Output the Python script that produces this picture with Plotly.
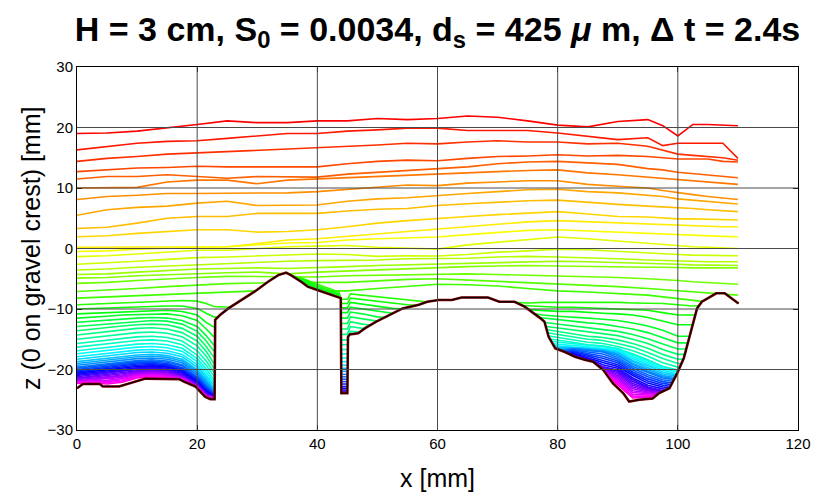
import colorsys
import plotly.graph_objects as go

_ = None

# ---- bed (gravel) profile -------------------------------------------------
BED_X = [0, 1.0, 3.8, 4.3, 7.0, 9.5, 11.4, 17.0, 17.8, 19.7, 21.3, 22.2, 22.9, 23.0, 23.8,
         25.2, 27.4, 29.6, 31.8, 33.5, 34.8, 35.6, 37.3, 38.4, 40.1, 41.7, 43.6, 43.9, 44.0,
         45.0, 45.1, 45.4, 46.8, 47.9, 49.8, 52.0, 54.2, 56.9, 58.3, 60.2, 62.4, 64.0, 68.4,
         70.3, 72.8, 74.5, 76.1, 77.1, 77.8, 78.5, 79.6, 81.2, 82.9, 84.5, 85.9, 87.6, 89.2,
         90.9, 91.9, 93.6, 95.8, 96.9, 98.6, 99.9, 101.0, 101.8, 102.7, 103.2, 104.0, 106.4,
         107.8, 109.2, 110.1]
BED_Z = [-23.1, -22.4, -22.4, -22.8, -22.8, -22.0, -21.5, -21.6, -22.0, -22.8, -24.5, -24.9,
         -24.9, -11.8, -11.0, -9.9, -8.5, -7.1, -5.5, -4.4, -4.0, -4.4, -5.5, -6.3, -6.9, -7.4,
         -8.1, -8.2, -23.9, -23.9, -14.6, -14.2, -14.0, -13.2, -12.1, -11.0, -9.9, -9.3, -8.8,
         -8.5, -8.5, -8.1, -8.1, -8.8, -8.8, -9.6, -10.7, -11.5, -12.1, -14.6, -16.5, -17.1,
         -17.9, -18.4, -18.7, -20.1, -22.3, -23.9, -25.3, -25.0, -24.8, -23.9, -23.1, -20.6,
         -18.1, -15.1, -11.5, -9.9, -8.8, -7.4, -7.4, -8.4, -9.1]

# ---- early surfaces spanning the whole flume -------------------------------
U_X = [0, 5, 10, 15, 20, 25, 30, 35, 40, 45, 50, 55, 60, 65, 70, 75, 80, 85, 90, 95,
       97.5, 100, 102.5, 105, 107.5, 110]
UPPER_Z = [
    [19.0, 19.1, 19.4, 19.9, 20.5, 21.1, 20.8, 20.8, 21.1, 21.1, 21.5, 21.3, 21.5, 21.9, 21.7, 21.1, 20.4, 20.1, 21.0, 21.3, 20.3, 18.6, 20.5, 20.5, 20.4, 20.3],
    [16.3, 16.9, 17.4, 17.7, 17.8, 18.2, 18.6, 19.0, 19.0, 19.4, 19.6, 19.9, 19.9, 19.5, 19.5, 19.5, 19.1, 18.5, 18.0, 18.3, 17.0, 17.4, 17.4, 17.4, 17.4, 14.9],
    [14.4, 14.9, 15.2, 15.6, 15.8, 16.0, 16.3, 16.5, 16.6, 16.9, 17.1, 17.4, 17.3, 17.6, 17.8, 17.6, 17.6, 17.3, 17.4, 16.9, 16.3, 15.6, 15.4, 15.2, 15.0, 14.6],
    [12.7, 13.0, 13.3, 13.4, 13.6, 13.5, 13.5, 13.5, 13.5, 14.0, 14.4, 14.6, 14.5, 14.9, 15.2, 15.3, 15.5, 15.3, 15.4, 15.2, 15.0, 14.8, 14.8, 14.8, 14.4, 14.3],
    [11.5, 11.9, 11.9, 12.2, 11.9, 11.6, 11.9, 11.9, 11.8, 12.3, 12.6, 13.0, 13.2, 13.5, 14.0, 14.3, 14.4, 14.1, 13.9, 13.2, 13.0, 12.6, 12.4, 12.2, 12.0, 11.7],
    [10.0, 10.0, 10.1, 11.0, 11.3, 11.3, 10.7, 11.3, 11.5, 11.7, 12.0, 12.2, 12.4, 12.6, 12.7, 12.9, 13.0, 12.5, 12.2, 11.8, 11.6, 11.3, 11.2, 11.0, 10.8, 10.6],
    [8.1, 8.6, 8.8, 9.1, 9.1, 9.1, 9.1, 9.2, 9.4, 9.8, 10.2, 10.5, 10.4, 10.8, 11.0, 11.2, 11.2, 10.6, 10.3, 10.0, 9.6, 9.2, 8.9, 8.6, 8.3, 8.1],
    [5.5, 6.4, 6.8, 7.0, 7.5, 7.8, 7.1, 7.2, 7.2, 7.8, 8.2, 8.4, 8.8, 9.1, 9.4, 9.7, 9.8, 9.4, 9.2, 8.8, 8.6, 8.2, 8.0, 7.7, 7.5, 7.35],
    [3.3, 3.5, 4.2, 5.0, 5.3, 5.3, 5.8, 5.8, 5.8, 6.2, 6.5, 6.6, 7.1, 7.4, 7.7, 7.9, 8.0, 7.6, 7.3, 7.0, 6.9, 6.8, 6.6, 6.4, 6.2, 6.1],
    [1.95, 2.1, 2.5, 2.8, 3.1, 3.1, 2.7, 2.8, 3.1, 3.6, 4.2, 4.6, 5.0, 5.3, 5.6, 5.9, 6.1, 5.7, 5.3, 5.2, 5.0, 4.9, 4.9, 4.8, 4.7, 4.7],
    [0.2, 0.2, 0.3, 0.3, 0.3, 0.3, 0.8, 1.4, 1.6, 2.0, 2.4, 2.8, 3.2, 3.6, 3.9, 4.4, 4.6, 4.4, 4.2, 4.1, 4.0, 3.8, 3.8, 3.7, 3.6, 3.6],
    [-0.5, -0.4, -0.1, 0.1, 0.2, 0.3, 0.6, 0.9, 1.0, 1.4, 1.6, 1.8, 1.9, 2.3, 2.6, 3.0, 3.1, 2.9, 2.6, 2.4, 2.3, 2.2, 2.1, 2.0, 2.0, 1.95],
    [-1.35, -1.2, -0.9, -0.6, -0.3, -0.3, 0.0, 0.3, 0.4, 0.5, 0.2, 0.1, -0.1, 0.6, 1.0, 1.5, 1.9, 1.6, 1.2, 0.9, 0.6, 0.4, 0.3, 0.2, 0.1, 0.0],
    [-2.6, -2.4, -2.1, -1.8, -1.5, -1.4, -1.2, -1.0, -0.9, -1.0, -1.3, -1.2, -1.25, -1.0, -0.6, -0.4, -0.1, -0.2, -0.5, -0.8, -0.9, -1.0, -1.1, -1.1, -1.2, -1.2],
    [-3.56, -3.4, -3.1, -2.9, -2.6, -2.4, -2.2, -2.1, -2.0, -2.0, -1.9, -1.7, -1.7, -1.6, -1.4, -1.3, -1.4, -1.5, -1.7, -1.9, -2.0, -2.1, -2.1, -2.2, -2.2, -2.2],
    [-4.3, -4.2, -3.9, -3.6, -3.4, -3.3, -3.2, -3.3, -3.2, -3.0, -2.8, -2.7, -2.5, -2.4, -2.3, -2.2, -2.1, -2.2, -2.3, -2.4, -2.5, -2.6, -2.7, -2.7, -2.8, -2.8],
    [-4.9, -4.8, -4.5, -4.3, -4.1, -4.0, -3.9, -4.2, -3.9, -3.7, -3.5, -3.3, -3.1, -3.0, -2.9, -2.8, -2.9, -3.0, -3.0, -3.1, -3.1, -3.2, -3.2, -3.2, -3.2, -3.2],
    [-5.76, -5.6, -5.3, -5.0, -4.8, -4.6, -4.6, -4.6, -4.7, -4.5, -4.4, -4.3, -4.2, -4.2, -4.3, -4.4, -4.5, -4.6, -4.8, -5.0, -5.1, -5.3, -5.5, -5.6, -5.8, -5.9],
    [-7.1, -6.9, -6.6, -6.3, -6.0, -5.8, -5.7, -5.6, -5.6, -5.6, -5.3, -5.1, -5.0, -5.2, -5.4, -5.6, -5.8, -6.0, -6.3, -6.6, -6.8, -7.0, -7.2, -7.4, -7.6, -7.7],
    [-8.2, -8.0, -7.7, -7.5, -7.3, -7.2, -7.0, -7.0, -7.0, -7.0, -6.6, -6.3, -5.9, -6.0, -6.2, -6.6, -7.0, -7.2, -7.4, -7.7, -8.0, -8.3, -8.6, -8.9, -9.2, -9.4],
]

# ---- later surfaces: upstream hole, slot / crest lee side, downstream hole --
LEFT_X = [0, 2.5, 5, 7.5, 10, 12.5, 15, 17.5, 20, 21.5, 22.8, 25, 27.5]
MID_X = [35, 37.5, 40, 42.5, 43.6, 44.0, 44.5, 45.0, 45.5, 47.5, 50, 52.5, 55, 57.5, 60]
RIGHT_X = [70, 75, 77.5, 80, 82.5, 85, 86.5, 87.5, 90, 92.5, 95, 97.5, 100, 102.5, 105, 107.5, 110]

LEFT_Z = [
    [-9.3, -9.2, -9.1, -9.0, -8.9, -8.8, -8.7, -8.6, -8.7, -9.1, -9.6, -9.7, -9.8],
    [-10.0, -9.9, -9.8, -9.7, -9.6, -9.5, -9.5, -9.5, -9.9, -10.7, -11.3, -11.5, -11.5],
    [-10.8, -10.7, -10.6, -10.5, -10.3, -10.2, -10.2, -10.4, -11.0, -12.2, -13.0, _, _],
    [-11.5, -11.4, -11.2, -11.0, -10.9, -10.8, -10.8, -11.1, -11.9, -13.3, -14.6, _, _],
    [-12.2, -12.0, -11.8, -11.6, -11.5, -11.4, -11.5, -11.9, -12.9, -14.4, -16.0, _, _],
    [-12.9, -12.7, -12.4, -12.2, -12.0, -11.9, -12.0, -12.5, -13.7, -15.3, -17.0, _, _],
    [-13.6, -13.3, -13.0, -12.8, -12.6, -12.5, -12.6, -13.2, -14.5, -16.2, -18.0, _, _],
    [-14.3, -14.0, -13.7, -13.4, -13.2, -13.1, -13.3, -13.9, -15.3, -17.0, -19.0, _, _],
    [-15.0, -14.7, -14.4, -14.1, -13.9, -13.8, -14.0, -14.6, -16.1, -17.8, -19.8, _, _],
    [-15.7, -15.4, -15.1, -14.8, -14.6, -14.5, -14.7, -15.3, -16.9, -18.6, -20.5, _, _],
    [-16.3, -16.0, -15.7, -15.4, -15.2, -15.1, -15.3, -15.9, -17.6, -19.3, -21.1, _, _],
    [-16.9, -16.6, -16.3, -16.0, -15.8, -15.7, -15.9, -16.5, -18.2, -19.9, -21.7, _, _],
    [-17.4, -17.1, -16.8, -16.5, -16.3, -16.2, -16.4, -17.0, -18.7, -20.4, -22.2, _, _],
    [-17.9, -17.6, -17.3, -17.0, -16.8, -16.7, -16.9, -17.5, -19.2, -20.9, -22.6, _, _],
    [-18.3, -18.0, -17.7, -17.4, -17.2, -17.1, -17.3, -17.9, -19.6, -21.3, -23.0, _, _],
    [-18.7, -18.4, -18.1, -17.8, -17.6, -17.5, -17.7, -18.3, -20.0, -21.7, -23.3, _, _],
    [-19.0, -18.7, -18.4, -18.1, -17.9, -17.8, -18.0, -18.6, -20.3, -22.0, -23.5, _, _],
    [-19.3, -19.0, -18.7, -18.4, -18.2, -18.1, -18.3, -18.9, -20.6, -22.3, -23.7, _, _],
    [-19.6, -19.3, -19.0, -18.7, -18.5, -18.4, -18.6, -19.2, -20.9, -22.6, -23.9, _, _],
    [-19.8, -19.5, -19.2, -18.9, -18.7, -18.6, -18.8, -19.4, -21.2, -22.8, -24.0, _, _],
    [-20.0, -19.7, -19.4, -19.1, -18.9, -18.8, -19.0, -19.7, -21.4, -23.0, -24.1, _, _],
    [-20.2, -19.9, -19.6, -19.3, -19.1, -19.0, -19.2, -19.9, -21.6, -23.2, -24.2, _, _],
    [-20.4, -20.1, -19.8, -19.5, -19.3, -19.2, -19.4, -20.1, -21.8, -23.4, -24.3, _, _],
    [-20.6, -20.3, -20.0, -19.7, -19.5, -19.4, -19.6, -20.3, -22.0, -23.6, -24.4, _, _],
    [-20.8, -20.5, -20.2, -19.9, -19.7, -19.6, -19.8, -20.5, -22.1, -23.7, -24.5, _, _],
    [-21.0, -20.7, -20.4, -20.1, -19.9, -19.75, -19.95, -20.7, -22.3, -23.9, -24.5, _, _],
    [-21.2, -20.9, -20.6, -20.3, -20.0, -19.9, -20.1, -20.9, -22.4, -24.0, -24.6, _, _],
    [-21.4, -21.1, -20.8, -20.5, -20.2, -20.05, -20.25, -21.0, -22.5, -24.1, -24.6, _, _],
    [-21.5, -21.3, -21.0, -20.7, -20.35, -20.2, -20.4, -21.1, -22.6, -24.2, -24.7, _, _],
    [-21.7, -21.5, -21.2, -20.9, -20.5, -20.35, -20.55, -21.2, -22.7, -24.2, -24.7, _, _],
    [-21.8, -21.6, -21.4, -21.1, -20.65, -20.5, -20.7, -21.3, -22.7, -24.3, -24.7, _, _],
    [-21.9, -21.7, -21.6, -21.3, -20.8, -20.65, -20.85, -21.4, -22.8, -24.3, -24.8, _, _],
    [-22.0, -21.9, -21.8, -21.5, -20.95, -20.8, -21.0, -21.5, -22.8, -24.4, -24.8, _, _],
    [-22.1, -22.0, -22.0, -21.7, -21.1, -20.95, -21.15, -21.6, -22.9, -24.4, -24.8, _, _],
    [-22.2, -22.1, -22.2, -21.9, -21.25, -21.1, -21.3, -21.7, -22.9, -24.5, -24.8, _, _],
    [-22.3, -22.2, -22.4, -22.1, -21.4, -21.25, -21.45, -21.8, -23.0, -24.5, -24.8, _, _],
]

MID_Z = [
    [-4.3, -4.9, -5.9, -6.8, -7.2, -8.4, -8.4, -8.4, -7.5, -7.7, -8.0, -8.2, -8.5, -8.8, -9.0],
    [-4.5, -5.1, -6.2, -7.1, -7.5, -9.1, -9.1, -9.1, -8.2, -8.4, -8.7, -9.0, -9.3, -9.5, -9.6],
    [-4.7, -5.3, -6.5, -7.35, -7.75, -9.8, -9.8, -9.8, -8.9, -9.2, -9.6, -9.9, -10.0, -10.0, -10.0],
    [-4.9, -5.5, -6.7, -7.55, -7.95, -10.6, -10.6, -10.6, -9.7, -10.0, -10.4, -10.7, -10.7, -10.7, -10.7],
    [_, _, _, _, _, -11.5, -11.5, -11.5, -10.5, -10.8, -11.3, -11.5, -11.5, _, _],
    [_, _, _, _, _, -12.4, -12.4, -12.4, -11.3, -11.6, -12.0, -12.0, _, _, _],
    [_, _, _, _, _, -13.3, -13.3, -13.3, -12.1, -12.5, -12.8, _, _, _, _],
    [_, _, _, _, _, -14.2, -14.2, -14.2, -12.9, -13.2, -13.2, _, _, _, _],
    [_, _, _, _, _, -15.1, -15.1, -15.1, -13.7, -13.8, _, _, _, _, _],
    [_, _, _, _, _, -15.9, -15.9, -15.9, _, _, _, _, _, _, _],
    [_, _, _, _, _, -16.7, -16.7, -16.7, _, _, _, _, _, _, _],
    [_, _, _, _, _, -17.4, -17.4, -17.4, _, _, _, _, _, _, _],
    [_, _, _, _, _, -18.1, -18.1, -18.1, _, _, _, _, _, _, _],
    [_, _, _, _, _, -18.7, -18.7, -18.7, _, _, _, _, _, _, _],
    [_, _, _, _, _, -19.3, -19.3, -19.3, _, _, _, _, _, _, _],
    [_, _, _, _, _, -19.8, -19.8, -19.8, _, _, _, _, _, _, _],
    [_, _, _, _, _, -20.3, -20.3, -20.3, _, _, _, _, _, _, _],
    [_, _, _, _, _, -20.8, -20.8, -20.8, _, _, _, _, _, _, _],
    [_, _, _, _, _, -21.2, -21.2, -21.2, _, _, _, _, _, _, _],
    [_, _, _, _, _, -21.6, -21.6, -21.6, _, _, _, _, _, _, _],
    [_, _, _, _, _, -22.0, -22.0, -22.0, _, _, _, _, _, _, _],
    [_, _, _, _, _, -22.4, -22.4, -22.4, _, _, _, _, _, _, _],
    [_, _, _, _, _, -22.8, -22.8, -22.8, _, _, _, _, _, _, _],
    [_, _, _, _, _, -23.1, -23.1, -23.1, _, _, _, _, _, _, _],
    [_, _, _, _, _, -23.4, -23.4, -23.4, _, _, _, _, _, _, _],
    [_, _, _, _, _, -23.7, -23.7, -23.7, _, _, _, _, _, _, _],
    None, None, None, None, None, None, None, None, None, None,
]

RIGHT_Z = [
    [-8.8, -9.0, -8.9, -8.9, -8.8, -8.8, -8.8, -8.8, -8.9, -9.0, -9.0, -9.1, -9.3, -9.5, -9.4, -9.3, -9.3],
    [-9.2, -9.5, -9.6, -9.7, -9.7, -9.8, -9.8, -9.8, -9.9, -10.0, -10.2, -10.6, -11.0, -11.0, -11.0, -11.0, -11.0],
    [-9.8, -10.1, -10.3, -10.4, -10.4, -10.6, -10.7, -10.7, -10.8, -11.0, -11.4, -12.0, -12.6, -12.6, -12.6, _, _],
    [_, -10.6, -11.0, -11.2, -11.3, -11.5, -11.6, -11.7, -11.9, -12.3, -12.8, -13.5, -14.5, -14.5, _, _, _],
    [_, -11.2, -11.5, -11.8, -12.0, -12.3, -12.4, -12.5, -12.9, -13.3, -13.9, -14.7, -15.6, -15.6, _, _, _],
    [_, _, -12.2, -12.5, -12.8, -13.1, -13.2, -13.3, -13.7, -14.2, -14.9, -15.8, -16.6, -16.6, _, _, _],
    [_, _, -12.8, -13.1, -13.5, -13.8, -13.9, -14.0, -14.4, -15.0, -15.7, -16.7, -17.5, -17.5, _, _, _],
    [_, _, -13.3, -13.7, -14.1, -14.5, -14.6, -14.7, -15.1, -15.7, -16.5, -17.5, -18.3, -18.3, _, _, _],
    [_, _, -13.8, -14.2, -14.6, -15.0, -15.1, -15.2, -15.7, -16.3, -17.2, -18.2, -19.0, -19.0, _, _, _],
    [_, _, -14.3, -14.7, -15.1, -15.5, -15.6, -15.7, -16.2, -16.9, -17.8, -18.9, -19.6, -19.6, _, _, _],
    [_, _, -14.8, -15.1, -15.5, -15.9, -16.0, -16.1, -16.6, -17.4, -18.4, -19.5, -20.1, -20.1, _, _, _],
    [_, _, -15.2, -15.5, -15.8, -16.0, -16.1, -16.2, -16.5, -17.6, -18.5, -19.5, -20.2, -20.2, _, _, _],
    [_, _, -15.6, -15.8, -16.0, -16.2, -16.3, -16.4, -16.7, -17.9, -18.8, -19.8, -20.5, -20.5, _, _, _],
    [_, _, -15.9, -16.1, -16.2, -16.4, -16.5, -16.6, -16.9, -18.2, -19.1, -20.1, -20.8, -20.8, _, _, _],
    [_, _, -16.2, -16.3, -16.3, -16.5, -16.6, -16.7, -17.1, -18.5, -19.4, -20.4, -21.0, -21.0, _, _, _],
    [_, _, -16.4, -16.5, -16.4, -16.6, -16.7, -16.8, -17.3, -18.7, -19.7, -20.7, -21.2, -21.2, _, _, _],
    [_, _, -16.6, -16.7, -16.5, -16.7, -16.8, -16.9, -17.5, -19.0, -20.0, -21.0, -21.4, -21.4, _, _, _],
    [_, _, -16.8, -16.9, -16.55, -16.75, -16.9, -17.0, -17.7, -19.2, -20.3, -21.2, -21.6, -21.6, _, _, _],
    [_, _, -17.0, -17.1, -16.6, -16.8, -17.0, -17.1, -18.0, -19.5, -20.5, -21.4, -21.8, _, _, _, _],
    [_, _, -17.2, -17.2, -16.75, -17.05, -17.3, -17.45, -18.3, -19.8, -20.85, -21.7, -22.1, _, _, _, _],
    [_, _, -17.4, -17.3, -16.9, -17.3, -17.6, -17.8, -18.6, -20.1, -21.2, -22.0, -22.4, _, _, _, _],
    [_, _, -17.6, -17.4, -17.05, -17.55, -17.9, -18.15, -18.9, -20.4, -21.55, -22.3, -22.7, _, _, _, _],
    [_, _, -17.8, -17.5, -17.2, -17.8, -18.2, -18.5, -19.2, -20.7, -21.9, -22.6, -23.0, _, _, _, _],
    [_, _, -18.0, -17.6, -17.35, -18.0, -18.5, -18.85, -19.5, -21.0, -22.25, -22.9, -23.3, _, _, _, _],
    [_, _, -18.2, -17.7, -17.5, -18.2, -18.8, -19.2, -19.8, -21.4, -22.6, -23.2, -23.6, _, _, _, _],
    [_, _, -18.4, -17.8, -17.65, -18.4, -19.1, -19.55, -20.1, -21.7, -22.9, -23.5, -23.9, _, _, _, _],
    [_, _, _, _, _, -19.0, -19.3, -19.6, -20.3, -22.0, -23.0, -23.6, -25.0, _, _, _, _],
    [_, _, _, _, _, -19.1, -19.4, -19.7, -20.55, -22.3, -23.2, -23.7, -25.0, _, _, _, _],
    [_, _, _, _, _, -19.2, -19.5, -19.8, -20.8, -22.6, -23.4, -23.8, -25.0, _, _, _, _],
    [_, _, _, _, _, -19.3, -19.6, -19.9, -21.05, -22.9, -23.55, -23.9, -25.0, _, _, _, _],
    [_, _, _, _, _, -19.4, -19.7, -20.0, -21.3, -23.2, -23.7, -24.0, -25.0, _, _, _, _],
    [_, _, _, _, _, -19.5, -19.8, -20.1, -21.55, -23.5, -23.85, -24.1, -25.0, _, _, _, _],
    [_, _, _, _, _, -19.6, -19.9, -20.2, -21.8, -23.8, -24.0, -24.2, -25.0, _, _, _, _],
    [_, _, _, _, _, -19.7, -20.0, -20.3, -22.05, -24.1, -24.2, -24.3, -25.0, _, _, _, _],
    [_, _, _, _, _, -19.8, -20.1, -20.4, -22.3, -24.4, -24.4, -24.4, -25.0, _, _, _, _],
    [_, _, _, _, _, -19.9, -20.2, -20.5, -22.55, -24.7, -24.6, -24.5, -25.0, _, _, _, _],
]

X_TICKS = [0, 20, 40, 60, 80, 100, 120]
Y_TICKS = [-30, -20, -10, 0, 10, 20, 30]

FONT = "Liberation Sans, Arial, sans-serif"
LINE_W = 1.6
HUE_SPAN = 0.85


def surface_colour(i, n):
    r, g, b = colorsys.hsv_to_rgb(HUE_SPAN * i / (n - 1), 1.0, 1.0)
    return "#%02x%02x%02x" % (round(r * 255), round(g * 255), round(b * 255))


n_lines = len(UPPER_Z) + len(LEFT_Z)
fig = go.Figure()

for i, zs in enumerate(UPPER_Z):
    fig.add_trace(go.Scatter(x=U_X, y=zs, mode="lines", hoverinfo="skip",
                             line=dict(color=surface_colour(i, n_lines), width=LINE_W)))

for j in range(len(LEFT_Z)):
    xs, ys = [], []
    for gx, gz in ((LEFT_X, LEFT_Z[j]), (MID_X, MID_Z[j]), (RIGHT_X, RIGHT_Z[j])):
        if gz is None:
            continue
        xs += gx + [None]
        ys += gz + [None]
    fig.add_trace(go.Scatter(x=xs, y=ys, mode="lines", hoverinfo="skip",
                             line=dict(color=surface_colour(len(UPPER_Z) + j, n_lines),
                                       width=LINE_W)))

# surfaces sitting on the gravel are hidden below the bed line
fig.add_trace(go.Scatter(x=BED_X + [BED_X[-1], BED_X[0]], y=BED_Z + [-30, -30],
                         mode="lines", fill="toself", fillcolor="white",
                         line=dict(width=0, color="white"), hoverinfo="skip"))
fig.add_trace(go.Scatter(x=BED_X, y=BED_Z, mode="lines", hoverinfo="skip",
                         line=dict(color="#8a0000", width=2.6)))
fig.add_trace(go.Scatter(x=BED_X, y=BED_Z, mode="lines", hoverinfo="skip",
                         line=dict(color="#140000", width=1.3)))

grid = dict(color="#4a4a4a", width=1)
for xv in X_TICKS[1:-1]:
    fig.add_shape(type="line", x0=xv, x1=xv, y0=Y_TICKS[0], y1=Y_TICKS[-1],
                  xref="x", yref="y", line=grid, layer="above")
for yv in Y_TICKS[1:-1]:
    fig.add_shape(type="line", x0=X_TICKS[0], x1=X_TICKS[-1], y0=yv, y1=yv,
                  xref="x", yref="y", line=grid, layer="above")

axis_common = dict(showgrid=False, zeroline=False, showline=True, linecolor="black",
                   linewidth=1, mirror="ticks", ticks="inside", ticklen=5,
                   tickcolor="black", tickfont=dict(family=FONT, size=15, color="black"))

fig.update_layout(
    width=823, height=499,
    margin=dict(l=77, r=18, t=67, b=69),
    plot_bgcolor="white", paper_bgcolor="white",
    showlegend=False,
    title=dict(text="<b>H = 3 cm, S<sub>0</sub> = 0.0034, d<sub>s</sub> = 425 <i>μ</i> m, Δ t = 2.4s</b>",
               x=0.5, xref="paper", xanchor="center",
               y=1 - 29 / 499, yref="container", yanchor="middle",
               font=dict(family=FONT, size=34, color="black")),
    xaxis=dict(range=[0, 120], tickvals=X_TICKS, **axis_common),
    yaxis=dict(range=[-30, 30], tickvals=Y_TICKS, **axis_common),
    annotations=[
        dict(text="x [mm]", xref="paper", yref="paper", x=0.5, y=-48 / 363,
             xanchor="center", yanchor="middle", showarrow=False,
             font=dict(family=FONT, size=25, color="black")),
        dict(text="z (0 on gravel crest) [mm]", xref="paper", yref="paper",
             x=-47 / 728, y=0.5, xanchor="center", yanchor="middle", textangle=-90,
             showarrow=False, font=dict(family=FONT, size=25, color="black")),
    ],
)

fig.write_html("out.html")
